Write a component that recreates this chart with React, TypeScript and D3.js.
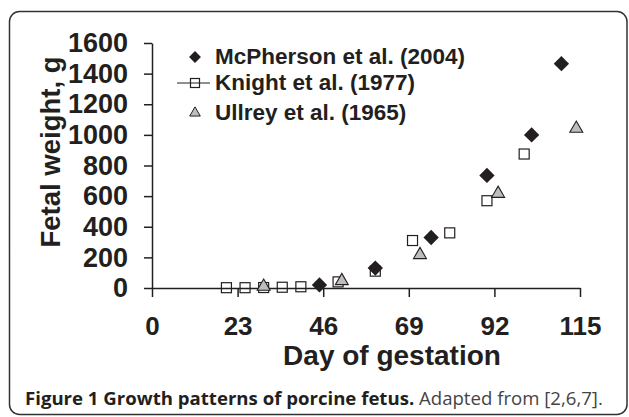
import React, { useEffect, useRef } from "react";
import * as d3 from "d3";

// Fetal weight (g) by day of gestation
const mcphersonDays = [45, 60, 75, 90, 102, 110];
const mcphersonWeights = [20, 130, 330, 735, 1000, 1465];

const knightDays = [20, 25, 30, 35, 40, 50, 60, 70, 80, 90, 100];
const knightWeights = [2, 2, 3, 5, 8, 40, 110, 310, 360, 570, 875];

const ullreyDays = [30, 51, 72, 93, 114];
const ullreyWeights = [3, 40, 210, 610, 1035];

const xTicks = [0, 23, 46, 69, 92, 115];
const yTicks = [0, 200, 400, 600, 800, 1000, 1200, 1400, 1600];

const legendLabels = ["McPherson et al. (2004)", "Knight et al. (1977)", "Ullrey et al. (1965)"];

const FONT = "'Liberation Sans', Arial, Helvetica, sans-serif";
const INK = "#231f20";

function drawChart(el: SVGSVGElement) {
  const svg = d3.select(el);
  svg.selectAll("*").remove();

  const width = 629;
  const plot = { left: 152, right: 580, top: 43, bottom: 288 };

  // rounded frame
  svg
    .append("rect")
    .attr("x", 9.5)
    .attr("y", 11.5)
    .attr("width", width - 9.5 - 2)
    .attr("height", 403)
    .attr("rx", 10)
    .attr("fill", "none")
    .attr("stroke", "#333")
    .attr("stroke-width", 1.5);

  const x = d3.scaleLinear().domain([0, 115]).range([plot.left, plot.right]);
  const y = d3.scaleLinear().domain([0, 1600]).range([plot.bottom, plot.top]);

  // y axis
  const yAxis = svg
    .append("g")
    .attr("transform", `translate(${plot.left},0)`)
    .call(
      d3
        .axisLeft(y)
        .tickValues(yTicks)
        .tickFormat(d3.format("d"))
        .tickSizeOuter(0)
        .tickSizeInner(8)
        .tickPadding(16)
    );
  yAxis.select(".domain").attr("stroke", INK).attr("stroke-width", 1.5);
  yAxis.selectAll(".tick line").attr("stroke", INK).attr("stroke-width", 1.5);
  yAxis
    .selectAll(".tick text")
    .attr("fill", INK)
    .style("font-family", FONT)
    .style("font-weight", "bold")
    .style("font-size", "27px");

  // x axis
  const xAxis = svg
    .append("g")
    .attr("transform", `translate(0,${plot.bottom})`)
    .call(d3.axisBottom(x).tickValues(xTicks).tickSizeOuter(0).tickSizeInner(9).tickPadding(20));
  xAxis.select(".domain").attr("stroke", INK).attr("stroke-width", 1.5);
  xAxis.selectAll(".tick line").attr("stroke", INK).attr("stroke-width", 1.5);
  xAxis
    .selectAll(".tick text")
    .attr("fill", INK)
    .style("font-family", FONT)
    .style("font-weight", "bold")
    .style("font-size", "26px");

  // axis titles
  svg
    .append("text")
    .attr("x", 392)
    .attr("y", 365)
    .attr("text-anchor", "middle")
    .attr("fill", INK)
    .style("font-family", FONT)
    .style("font-weight", "bold")
    .style("font-size", "28px")
    .text("Day of gestation");

  svg
    .append("text")
    .attr("transform", "translate(60,152) rotate(-90)")
    .attr("text-anchor", "middle")
    .attr("fill", INK)
    .style("font-family", FONT)
    .style("font-weight", "bold")
    .style("font-size", "27.5px")
    .text("Fetal weight, g");

  const diamond = d3.symbol().type(d3.symbolDiamond2);
  const triangle = d3.symbol().type(d3.symbolTriangle2);

  // Knight: open squares
  svg
    .append("g")
    .selectAll("rect")
    .data(d3.zip(knightDays, knightWeights))
    .join("rect")
    .attr("x", (d) => x(d[0]) - 5)
    .attr("y", (d) => y(d[1]) - 5)
    .attr("width", 10)
    .attr("height", 10)
    .attr("fill", "none")
    .attr("stroke", INK)
    .attr("stroke-width", 1.2);

  // Ullrey: grey triangles
  svg
    .append("g")
    .selectAll("path")
    .data(d3.zip(ullreyDays, ullreyWeights))
    .join("path")
    .attr("d", triangle.size(120))
    .attr("transform", (d) => `translate(${x(d[0])},${y(d[1]) - 1})`)
    .attr("fill", "#bdbdbd")
    .attr("stroke", INK)
    .attr("stroke-width", 1.1);

  // McPherson: filled diamonds
  svg
    .append("g")
    .selectAll("path")
    .data(d3.zip(mcphersonDays, mcphersonWeights))
    .join("path")
    .attr("d", diamond.size(150))
    .attr("transform", (d) => `translate(${x(d[0])},${y(d[1])})`)
    .attr("fill", INK);

  // legend
  const rows = [57, 83, 113];
  const lg = svg.append("g");
  lg.append("path")
    .attr("d", diamond.size(90))
    .attr("transform", `translate(195,${rows[0]})`)
    .attr("fill", INK);
  lg.append("line")
    .attr("x1", 177)
    .attr("x2", 210)
    .attr("y1", rows[1])
    .attr("y2", rows[1])
    .attr("stroke", INK)
    .attr("stroke-width", 1.2);
  lg.append("rect")
    .attr("x", 190.5)
    .attr("y", rows[1] - 4.5)
    .attr("width", 9)
    .attr("height", 9)
    .attr("fill", "none")
    .attr("stroke", INK)
    .attr("stroke-width", 1.2);
  lg.append("path")
    .attr("d", triangle.size(80))
    .attr("transform", `translate(195,${rows[2]})`)
    .attr("fill", "#bdbdbd")
    .attr("stroke", INK)
    .attr("stroke-width", 1);
  lg.selectAll("text")
    .data(legendLabels)
    .join("text")
    .attr("x", 215)
    .attr("y", (d, i) => rows[i] + 7)
    .attr("fill", INK)
    .style("font-family", FONT)
    .style("font-weight", "bold")
    .style("font-size", "22.5px")
    .text((d) => d);

  // caption
  const cap = svg
    .append("text")
    .attr("x", 25)
    .attr("y", 405)
    .attr("fill", INK)
    .style("font-family", "'Open Sans', 'Noto Sans', sans-serif")
    .style("font-size", "18.6px");
  cap.append("tspan").style("font-weight", "bold").text("Figure 1 Growth patterns of porcine fetus.");
  cap.append("tspan").attr("fill", "#444").text(" Adapted from [2,6,7].");
}

export default function App() {
  const ref = useRef<SVGSVGElement>(null);
  useEffect(() => {
    if (ref.current) drawChart(ref.current);
  }, []);
  return (
    <svg
      ref={ref}
      width={629}
      height={417}
      style={{ position: "absolute", left: 0, top: 0, background: "#fff" }}
    />
  );
}
